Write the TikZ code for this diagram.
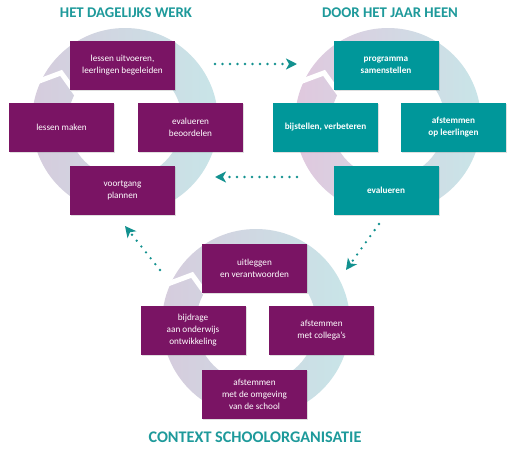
\documentclass[tikz,border=0pt]{standalone}
\usepackage{fontspec}
\setmainfont{Carlito}
\usetikzlibrary{arrows.meta,calc,shadows}
\definecolor{boxpurple}{HTML}{7A1464}
\definecolor{boxteal}{HTML}{00979A}
\definecolor{titleteal}{HTML}{1E9A9B}
\definecolor{dotteal}{HTML}{12918F}
\definecolor{ringlav}{HTML}{D6CCDD}
\definecolor{ringpink}{HTML}{E0C8DE}
\definecolor{ringteal}{HTML}{C8E5E8}
\tikzset{
  pbox/.style={rectangle, fill=boxpurple, text=white, minimum width=105pt, minimum height=49pt,
    inner sep=1pt, align=center, font=\fontsize{9.2}{12}\selectfont,
    drop shadow={opacity=0.25, shadow xshift=1pt, shadow yshift=-1pt}},
  tbox/.style={pbox, fill=boxteal, font=\fontsize{9.2}{12}\selectfont\bfseries},
  ttl/.style={text=titleteal, font=\fontsize{14.8}{17}\selectfont\bfseries, inner sep=0pt},
  dotarrow/.style={draw=dotteal, line width=2.6pt, line cap=round, dash pattern=on 0pt off 7.5pt,
    -{Stealth[length=11pt,width=11pt,inset=3pt]}},
  chev/.style={draw=white, line width=5pt, line join=miter}
}
\begin{document}
\begin{tikzpicture}[x=1pt,y=-1pt]
\useasboundingbox (0,0) rectangle (512,450);
\fill[white] (0,0) rectangle (512,450);
% ring centres
\coordinate (c1) at (125,121);
\coordinate (c2) at (388,121);
\coordinate (c3) at (256,323);
% rings
\shade[even odd rule, left color=ringlav, right color=ringteal] (c1) circle[radius=93pt] (c1) circle[radius=57pt];
\shade[even odd rule, left color=ringpink, right color=ringteal] (c2) circle[radius=93pt] (c2) circle[radius=57pt];
\shade[even odd rule, left color=ringlav, right color=ringteal] (c3) circle[radius=94pt] (c3) circle[radius=60pt];
\foreach \c in {c1,c2,c3}{
  \draw[chev] ($(\c)+(157:98pt)$) -- ($(\c)+(143:80pt)$) -- ($(\c)+(153:52pt)$);
}
% titles
\node[ttl] (t1) at (126,13) {HET DAGELIJKS WERK};
\node[ttl] (t2) at (390,13) {DOOR HET JAAR HEEN};
\node[ttl, font=\fontsize{16.2}{18}\selectfont\bfseries] (t3) at (255,437) {CONTEXT SCHOOLORGANISATIE};
% cluster 1
\node[pbox] (a1) at (122.5,65.5) {lessen uitvoeren,\\leerlingen begeleiden};
\node[pbox] (a2) at (61.5,127.5) {lessen maken};
\node[pbox] (a3) at (190.5,127.5) {evalueren\\beoordelen};
\node[pbox] (a4) at (122.5,190.5) {voortgang\\plannen};
% cluster 2
\node[tbox] (b1) at (386,65.5) {programma\\samenstellen};
\node[tbox] (b2) at (325.5,127.5) {bijstellen, verbeteren};
\node[tbox] (b3) at (453.5,127.5) {afstemmen\\op leerlingen};
\node[tbox] (b4) at (386,190.5) {evalueren};
% cluster 3
\node[pbox] (d1) at (254.5,268.5) {uitleggen\\en verantwoorden};
\node[pbox] (d2) at (193,330) {bijdrage\\aan onderwijs\\ontwikkeling};
\node[pbox] (d3) at (321.5,330) {afstemmen\\met collega’s};
\node[pbox] (d4) at (254.5,394) {afstemmen\\met de omgeving\\van de school};
% arrow end points
\coordinate (p1s) at (215,64);
\coordinate (p1e) at (297,64);
\coordinate (p2s) at (297,177);
\coordinate (p2e) at (215,177);
\coordinate (p3s) at (379,224);
\coordinate (p3e) at (346,270);
\coordinate (p4s) at (160,270);
\coordinate (p4e) at (125,226);
\draw[dotarrow] (p1s) -- (p1e);
\draw[dotarrow] (p2s) -- (p2e);
\draw[dotarrow] (p3s) -- (p3e);
\draw[dotarrow] (p4s) -- (p4e);
\end{tikzpicture}
\end{document}
